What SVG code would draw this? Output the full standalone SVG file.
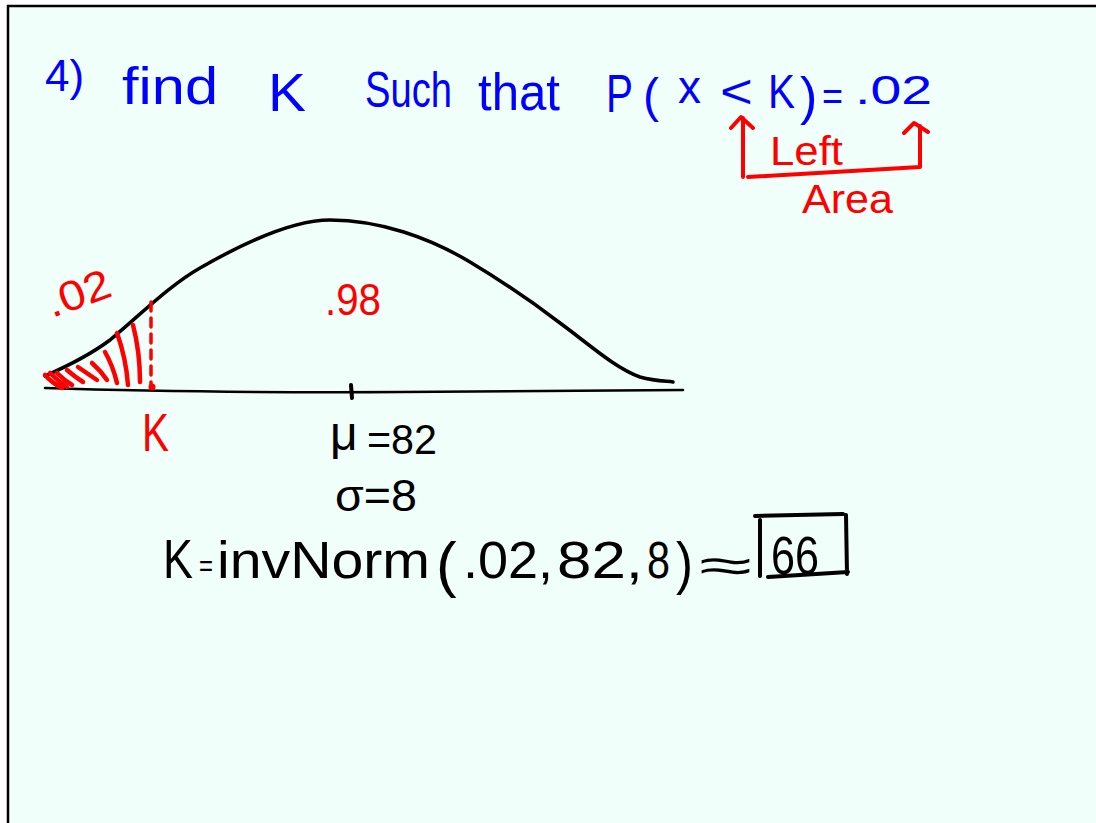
<svg xmlns="http://www.w3.org/2000/svg" width="1096" height="823" viewBox="0 0 1096 823">
<style>
.b{fill:#0000ff;font-family:"Liberation Sans",Arial,sans-serif}
.r{fill:#ff0000;font-family:"Liberation Sans",Arial,sans-serif}
.k{fill:#000;font-family:"Liberation Sans",Arial,sans-serif}
.rs{fill:none;stroke:#ff0000;stroke-linecap:round;stroke-linejoin:round}
.ks{fill:none;stroke:#000;stroke-linecap:round;stroke-linejoin:round}
</style>
<rect x="0" y="0" width="1096" height="823" fill="#ffffff"/>
<rect x="8" y="6" width="1100" height="830" fill="#f0fffa" stroke="#000" stroke-width="2.5"/>

<g id="title">
<text class="b" x="45" y="91" font-size="44">4)</text>
<text class="b" x="122" y="104" font-size="52" textLength="96" lengthAdjust="spacingAndGlyphs">find</text>
<text class="b" x="268" y="111" font-size="54" textLength="38" lengthAdjust="spacingAndGlyphs">K</text>
<text class="b" x="365" y="107" font-size="50" textLength="87" lengthAdjust="spacingAndGlyphs">Such</text>
<text class="b" x="478" y="110" font-size="52" textLength="82" lengthAdjust="spacingAndGlyphs">that</text>
<text class="b" x="606" y="112" font-size="54" textLength="27" lengthAdjust="spacingAndGlyphs">P</text>
<text class="b" x="643" y="112" font-size="48">(</text>
<text class="b" x="678" y="103" font-size="46">x</text>
<text class="b" x="720" y="108" font-size="48" textLength="33" lengthAdjust="spacingAndGlyphs">&lt;</text>
<text class="b" x="768" y="108" font-size="48" textLength="27" lengthAdjust="spacingAndGlyphs">K</text>
<text class="b" x="800" y="114" font-size="52">)</text>
<text class="b" x="822" y="110" font-size="40" textLength="21" lengthAdjust="spacingAndGlyphs">=</text>
<text class="b" x="855" y="104" font-size="40" textLength="77" lengthAdjust="spacingAndGlyphs">.02</text>
</g>

<g id="left-area-note">
<path class="rs" stroke-width="4" d="M743,177 L743,118 M731,128 L741,117 L753,128 M748,177 L920,167 L920,126 M904,133 L914,123 L928,132"/>
<text class="r" x="770" y="165" font-size="40" textLength="73" lengthAdjust="spacingAndGlyphs">Left</text>
<text class="r" x="802" y="213" font-size="40" textLength="91" lengthAdjust="spacingAndGlyphs">Area</text>
</g>

<g id="normal-curve">
<path class="ks" stroke-width="3.5" d="M45,376 C70,365 90,355 110,340 C140,315 170,285 200,268 C240,245 290,220 330,220 C380,220 430,238 470,262 C500,280 530,300 560,323 C590,345 615,368 640,377 C655,381 665,381 673,382"/>
<path class="ks" stroke-width="2.5" d="M45,388 Q200,393 400,392 L683,390"/>
<path class="ks" stroke-width="4" d="M351,385 L352,398"/>
</g>

<g id="shaded-tail">
<path class="rs" stroke-width="4.5" d="M45,375 Q52,383 62,388 M50,373 Q58,381 67,387 M57,373 Q64,380 72,385 M67,370 Q75,377 83,382 M78,367 Q88,374 97,380 M92,363 Q101,371 107,380 M105,352 Q113,366 117,383 M117,333 Q126,358 128,385 M133,325 Q140,352 140,382"/>
<path class="rs" stroke-width="3.5" stroke-dasharray="9 7" d="M151,302 L151,386"/>
<circle cx="152" cy="387" r="3.5" fill="#ff0000"/>
<text class="r" x="52" y="318" font-size="42" textLength="66" lengthAdjust="spacingAndGlyphs" transform="rotate(-20 52 318)">.02</text>
<text class="r" x="142" y="451" font-size="54" textLength="27" lengthAdjust="spacingAndGlyphs">K</text>
</g>

<g id="center-label">
<text class="r" x="325" y="315" font-size="44" textLength="56" lengthAdjust="spacingAndGlyphs">.98</text>
</g>

<g id="parameters">
<text class="k" x="330" y="450" font-size="48">μ</text>
<text class="k" x="367" y="454" font-size="42" textLength="70" lengthAdjust="spacingAndGlyphs">=82</text>
<text class="k" x="335" y="511" font-size="44" textLength="82" lengthAdjust="spacingAndGlyphs">σ=8</text>
</g>

<g id="formula">
<text class="k" x="163" y="578" font-size="56" textLength="30" lengthAdjust="spacingAndGlyphs">K</text>
<text class="k" x="199" y="576" font-size="30" textLength="14" lengthAdjust="spacingAndGlyphs">=</text>
<text class="k" x="217" y="578" font-size="52" textLength="213" lengthAdjust="spacingAndGlyphs">invNorm</text>
<text class="k" x="436" y="585" font-size="62">(</text>
<text class="k" x="463" y="578" font-size="52" textLength="90" lengthAdjust="spacingAndGlyphs">.02,</text>
<text class="k" x="557" y="578" font-size="52" textLength="86" lengthAdjust="spacingAndGlyphs">82,</text>
<text class="k" x="647" y="578" font-size="52" textLength="23" lengthAdjust="spacingAndGlyphs">8</text>
<text class="k" x="676" y="583" font-size="58" textLength="17" lengthAdjust="spacingAndGlyphs">)</text>
<text class="k" x="699" y="582" font-size="48" textLength="53" lengthAdjust="spacingAndGlyphs">≈</text>
<path class="ks" stroke-width="4" d="M760,520 L760,576 M755,516 L843,514 M846,515 L847,574 M768,577 L848,572"/>
<text class="k" x="771" y="574" font-size="54" textLength="48" lengthAdjust="spacingAndGlyphs">66</text>
</g>
</svg>
